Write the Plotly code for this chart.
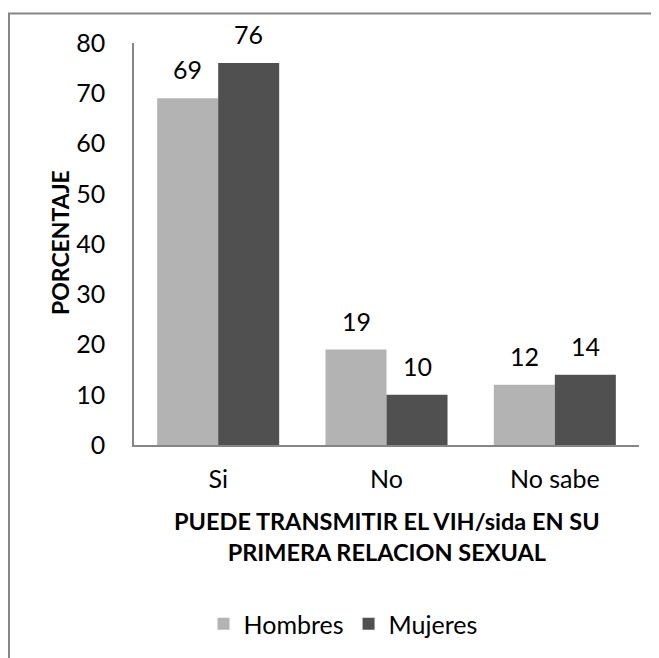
import plotly.graph_objects as go

categories = ["Si", "No", "No sabe"]
hombres = [69, 19, 12]
mujeres = [76, 10, 14]
series_names = ["Hombres", "Mujeres"]
y_ticks = [0, 10, 20, 30, 40, 50, 60, 70, 80]
x_title = "PUEDE TRANSMITIR EL VIH/sida EN SU<br>PRIMERA RELACION SEXUAL"
y_title = "PORCENTAJE"

colors = ["#B3B3B3", "#505050"]
FONT = "Lato"
OFF = 8  # browser body margin
W, H = 659 - OFF, 658 - OFF
# plot area in page pixels
PX0, PX1, PY0, PY1 = 134, 639, 43, 445
L, R, T, B = PX0 - OFF, W - (PX1 - OFF), PY0 - OFF, H - (PY1 - OFF)
pw = PX1 - PX0
ph = PY1 - PY0


def px_x(p):
    return (p - PX0) / pw


def px_y(p):
    return (PY1 - p) / ph


fig = go.Figure()
for name, vals, col in zip(series_names, [hombres, mujeres], colors):
    fig.add_trace(go.Bar(x=categories, y=vals, name=name,
                         marker=dict(color=col, line=dict(width=0))))

annotations = []
for vals, shift in [(hombres, -30.5), (mujeres, 30.5)]:
    for c, v in zip(categories, vals):
        annotations.append(dict(x=c, y=v, text=str(v), showarrow=False,
                                xshift=shift, yshift=12, yanchor="bottom",
                                font=dict(family=FONT, size=25, color="#000")))

annotations.append(dict(x=0.5, y=px_y(536), xref="paper", yref="paper",
                        text=x_title, showarrow=False,
                        xanchor="center", yanchor="middle",
                        font=dict(family=FONT, size=23.5, color="#000", weight="bold")))
annotations.append(dict(x=px_x(60), y=px_y(243), xref="paper", yref="paper",
                        text=y_title, textangle=-90, showarrow=False,
                        xanchor="center", yanchor="middle",
                        font=dict(family=FONT, size=23, color="#000", weight="bold")))

shapes = [
    dict(type="line", xref="paper", yref="paper", x0=px_x(9), x1=px_x(9),
         y0=px_y(13), y1=px_y(670), line=dict(color="#868686", width=2)),
    dict(type="line", xref="paper", yref="paper", x0=px_x(8), x1=px_x(670),
         y0=px_y(13.5), y1=px_y(13.5), line=dict(color="#868686", width=2)),
]

fig.update_layout(
    width=W, height=H,
    margin=dict(l=L, r=R, t=T, b=B, autoexpand=False),
    paper_bgcolor="white", plot_bgcolor="white",
    barmode="group", bargap=0.275, bargroupgap=0,
    font=dict(family=FONT, size=25, color="#000"),
    showlegend=True,
    legend=dict(orientation="h", x=px_x(343), y=px_y(624), xanchor="center",
                yanchor="middle", font=dict(family=FONT, size=25),
                bgcolor="rgba(0,0,0,0)"),
    annotations=annotations,
    shapes=shapes,
    xaxis=dict(showline=True, linecolor="#868686", linewidth=1.5, ticks="",
               showgrid=False, zeroline=False, ticklabelstandoff=11,
               tickfont=dict(family=FONT, size=25)),
    yaxis=dict(range=[0, 80], tickvals=y_ticks, showline=True, linecolor="#868686",
               linewidth=1.5, ticks="", showgrid=False, zeroline=False,
               ticklabelstandoff=22, tickfont=dict(family=FONT, size=25)),
)

fig.write_html("out.html")
